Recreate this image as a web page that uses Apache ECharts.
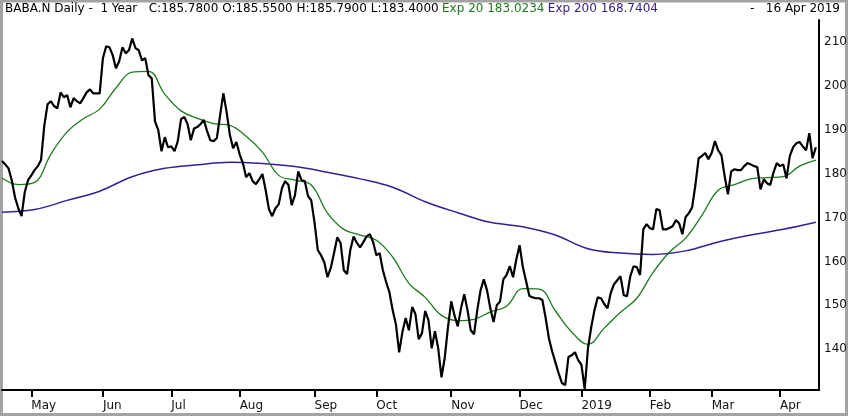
<!DOCTYPE html>
<html>
<head>
<meta charset="utf-8">
<script src="https://cdn.jsdelivr.net/npm/echarts@6/dist/echarts.min.js"></script>
<style>
  html, body { margin: 0; padding: 0; background: #fff; }
  #chart { width: 850px; height: 417px; }
</style>
</head>
<body>
<div id="chart"></div>
<script>
// daily closes, 18 Apr 2018 .. 16 Apr 2019 (251 trading days)
var price = [
  182.9, 182.1, 181.2, 178.5, 174.6, 172.1, 170.3, 175.8, 178.5, 179.6,
  180.8, 181.7, 183.1, 191.0, 195.8, 196.5, 195.4, 194.9, 198.5, 197.4,
  197.9, 195.1, 197.2, 196.5, 196.0, 197.2, 198.5, 199.2, 198.3, 198.3,
  198.3, 206.3, 209.0, 208.8, 207.0, 204.0, 205.6, 208.8, 207.4, 208.1,
  210.8, 208.6, 208.1, 205.8, 206.3, 202.4, 201.7, 191.9, 189.9, 185.1,
  188.3, 186.0, 186.2, 185.1, 187.4, 192.4, 192.9, 191.3, 187.6, 190.3,
  190.6, 191.3, 192.2, 189.7, 187.6, 187.4, 188.1, 193.3, 198.3, 194.0,
  188.8, 185.8, 187.2, 184.4, 182.4, 179.2, 180.1, 178.3, 177.6, 178.7,
  179.9, 176.2, 171.9, 170.3, 172.1, 173.0, 176.7, 178.3, 177.4, 172.8,
  175.1, 180.5, 178.5, 178.3, 174.9, 173.9, 168.9, 162.6, 161.4, 159.8,
  156.4, 158.5, 161.9, 165.5, 164.2, 158.0, 157.1, 162.6, 165.7, 164.2,
  163.2, 164.4, 165.7, 166.2, 164.4, 161.4, 161.9, 158.0, 155.3, 153.0,
  148.9, 145.7, 139.3, 143.9, 147.1, 144.3, 149.6, 148.0, 142.3, 143.6,
  148.7, 146.6, 140.2, 144.1, 140.2, 133.6, 138.0, 145.0, 150.9, 147.7,
  145.2, 149.3, 152.5, 148.9, 144.3, 143.4, 148.9, 153.4, 155.9, 153.4,
  149.3, 146.2, 150.0, 150.9, 155.9, 156.9, 158.9, 156.4, 160.5, 163.7,
  158.7, 155.5, 152.1, 151.8, 151.6, 151.6, 151.2, 147.1, 142.5, 139.5,
  137.0, 134.5, 132.3, 131.8, 138.2, 138.6, 139.3, 137.5, 136.4, 130.9,
  140.2, 145.0, 148.9, 151.8, 151.6, 150.3, 149.3, 152.8, 154.8, 155.7,
  156.6, 152.3, 152.1, 156.6, 158.9, 158.7, 156.9, 167.3, 168.5, 167.6,
  167.3, 171.9, 171.7, 167.3, 167.3, 167.6, 168.0, 169.4, 168.7, 166.2,
  170.1, 171.0, 172.3, 177.4, 183.5, 184.0, 184.7, 183.3, 184.7, 187.4,
  185.3, 184.2, 179.4, 175.3, 180.5, 181.0, 180.8, 180.8, 181.7, 182.4,
  182.1, 181.7, 181.5, 176.4, 178.7, 177.8, 177.4, 180.3, 182.4, 181.7,
  182.1, 178.9, 184.0, 186.0, 186.9, 187.2, 186.2, 185.3, 189.2, 183.5,
  186.0
];
// Exp 20, read every 5th day
var ema20 = [
  179.0, 177.5, 178.0, 184.4, 189.5, 192.5, 194.7, 199.5, 203.1, 203.3,
  198.1, 194.3, 192.6, 191.4, 191.0, 188.5, 184.9, 179.6, 178.5, 177.4,
  171.0, 167.3, 166.0, 164.8, 161.0, 155.0, 151.8, 147.7, 146.5, 146.8,
  148.5, 149.8, 153.8, 153.7, 148.7, 143.9, 141.1, 144.8, 148.4, 151.6,
  157.5, 162.1, 165.3, 170.5, 176.2, 177.5, 178.8, 179.1, 179.3, 181.7,
  183.1
];
var ema20Step = 5;
// Exp 200, read every 10th day
var ema200 = [
  171.2, 171.8, 173.9, 176.0, 179.3, 181.2, 182.0, 182.6, 182.3, 181.6,
  180.3, 178.8, 176.9, 173.6, 171.1, 168.9, 167.9, 166.0, 162.9, 161.9,
  161.6, 162.4, 164.4, 166.0, 167.3, 168.9
];
var ema200Step = 10;
// first trading day of each month and its label
var tickDays = [9, 31, 52, 73, 96, 115, 138, 159, 178, 199, 218, 239];
var tickLabels = ['May', 'Jun', 'Jul', 'Aug', 'Sep', 'Oct', 'Nov', 'Dec', '2019', 'Feb', 'Mar', 'Apr'];
var yTicks = [140, 150, 160, 170, 180, 190, 200, 210];

var days = [];
for (var i = 0; i <= price.length; i++) days.push(String(i)); // one spare slot at the right

var font = 'DejaVu Sans';
var isTick = function (idx) { return tickDays.indexOf(idx) >= 0; };

var chart = echarts.init(document.getElementById('chart'));
chart.setOption({
  animation: false,
  backgroundColor: '#fff',
  grid: { left: 2, right: 30, top: 20, bottom: 27 },
  xAxis: {
    type: 'category',
    data: days,
    boundaryGap: false,
    axisLine: { lineStyle: { color: '#000', width: 2 } },
    axisTick: { interval: isTick, length: 7, lineStyle: { color: '#000', width: 2 } },
    axisLabel: {
      interval: isTick,
      align: 'left',
      margin: 10,
      color: '#111',
      fontFamily: font,
      fontSize: 12,
      formatter: function (v, idx) { return tickLabels[tickDays.indexOf(idx)] || ''; }
    },
    splitLine: { show: false }
  },
  yAxis: {
    type: 'value',
    position: 'right',
    min: 130.7,
    max: 215,
    axisLine: { show: true, lineStyle: { color: '#000', width: 2 } },
    axisTick: { show: false },
    splitLine: { show: false },
    axisLabel: {
      customValues: yTicks,
      margin: 5,
      color: '#111',
      fontFamily: font,
      fontSize: 12
    }
  },
  series: [
    {
      name: 'Exp 200', type: 'line', showSymbol: false, smooth: 0.4,
      data: ema200.map(function (v, k) { return [k * ema200Step, v]; }),
      lineStyle: { color: '#3a1d96', width: 1.5 }
    },
    {
      name: 'Exp 20', type: 'line', showSymbol: false, smooth: 0.4,
      data: ema20.map(function (v, k) { return [k * ema20Step, v]; }),
      lineStyle: { color: '#1c7a1c', width: 1.3 }
    },
    {
      name: 'BABA.N', type: 'line', showSymbol: false,
      data: price,
      lineStyle: { color: '#000', width: 2.2 }
    }
  ],
  graphic: [
    {
      type: 'rect', silent: true,
      shape: { x: 1.5, y: 1, width: 845, height: 413.5 },
      style: { fill: 'none', stroke: '#a3a3a3', lineWidth: 3 }
    },
    {
      type: 'text', left: 5, top: 3,
      style: {
        text: '{k|BABA.N Daily -  1 Year   C:185.7800 O:185.5500 H:185.7900 L:183.4000} {g|Exp 20 183.0234} {p|Exp 200 168.7404}',
        rich: {
          k: { fill: '#000', fontFamily: font, fontSize: 12 },
          g: { fill: '#1c7a1c', fontFamily: font, fontSize: 12 },
          p: { fill: '#3a1d80', fontFamily: font, fontSize: 12 }
        }
      }
    },
    {
      type: 'text', right: 10, top: 3,
      style: { text: '-   16 Apr 2019', fill: '#000', fontFamily: font, fontSize: 12 }
    }
  ]
});
</script>
</body>
</html>
